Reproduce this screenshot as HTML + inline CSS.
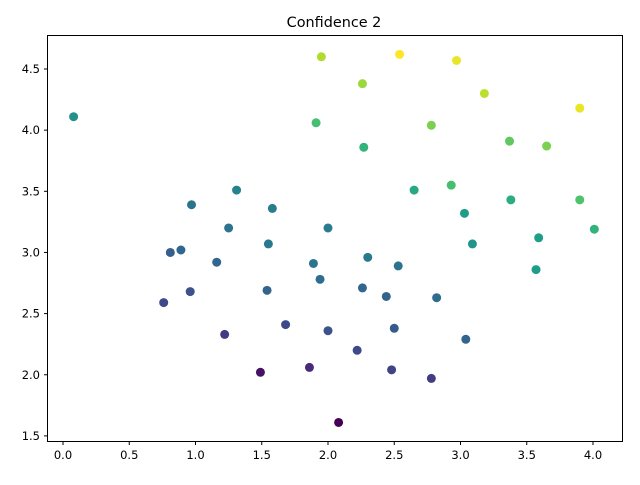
<!DOCTYPE html>
<html><head><meta charset="utf-8"><style>
body{margin:0;background:#fff;}
svg text{font-family:"DejaVu Sans","Liberation Sans",sans-serif;fill:#000;}
</style></head><body>
<svg id="chart" width="640" height="480">
<rect width="640" height="480" fill="#fff"/>
<text x="334" y="27" font-size="14.4" text-anchor="middle">Confidence 2</text>
<g id="marks"></g>
<g id="xaxis"></g><g id="yaxis"></g>
<rect x="47.5" y="35.5" width="575" height="406" fill="none" stroke="#000" stroke-width="1"/>
</svg>
<script>
const xs=[0.08,1.95,2.54,2.97,2.26,3.18,3.90,1.91,2.78,2.27,3.37,3.65,2.65,2.93,1.31,0.97,1.58,3.38,3.90,3.03,2.0,1.25,4.01,3.59,1.55,3.09,0.81,0.89,2.30,1.16,1.89,2.53,3.57,1.94,2.26,1.54,0.96,2.44,2.82,0.76,1.68,2.5,2.0,3.04,1.22,2.22,1.49,1.86,2.48,2.78,2.08];
const ys=[4.11,4.60,4.62,4.57,4.38,4.30,4.18,4.06,4.04,3.86,3.91,3.87,3.51,3.55,3.51,3.39,3.36,3.43,3.43,3.32,3.20,3.20,3.19,3.12,3.07,3.07,3.00,3.02,2.96,2.92,2.91,2.89,2.86,2.78,2.71,2.69,2.68,2.64,2.63,2.59,2.41,2.38,2.36,2.29,2.33,2.20,2.02,2.06,2.04,1.97,1.61];
const cs=[0.5,0.88,1.0,0.97,0.85,0.9,0.97,0.7,0.8,0.65,0.75,0.8,0.6,0.7,0.45,0.38,0.42,0.62,0.72,0.55,0.42,0.38,0.65,0.55,0.4,0.52,0.3,0.33,0.4,0.33,0.38,0.38,0.55,0.35,0.33,0.32,0.25,0.32,0.35,0.22,0.22,0.28,0.25,0.32,0.18,0.22,0.05,0.12,0.2,0.18,0.0];
const xTicks=[0,0.5,1,1.5,2,2.5,3,3.5,4];
const yTicks=[1.5,2,2.5,3,3.5,4,4.5];
const sx=v=>63+v*132.5, sy=v=>69+(4.5-v)*122.3;
const V=[[68,1,84],[72,40,120],[62,74,137],[49,104,142],[38,130,142],[31,158,137],[53,183,121],[109,205,89],[180,222,44],[253,231,37]];
function vir(t){t=Math.max(0,Math.min(1,t))*9;const i=Math.min(8,Math.floor(t)),f=t-i;const a=V[i],b=V[i+1];return`rgb(${a.map((c,k)=>Math.round(c+(b[k]-c)*f)).join(',')})`;}
const NS='http://www.w3.org/2000/svg';
const m=document.getElementById('marks');
xs.forEach((x,i)=>{const c=document.createElementNS(NS,'circle');
c.setAttribute('cx',sx(x));c.setAttribute('cy',sy(ys[i]));c.setAttribute('r',4.5);c.setAttribute('fill',vir(cs[i]));


m.appendChild(c);});
const xa=document.getElementById('xaxis');
xTicks.forEach(t=>{const x=sx(t);
const l=document.createElementNS(NS,'line');l.setAttribute('x1',x);l.setAttribute('x2',x);l.setAttribute('y1',441.5);l.setAttribute('y2',445);l.setAttribute('stroke','#000');


xa.appendChild(l);
const tx=document.createElementNS(NS,'text');tx.setAttribute('x',x);tx.setAttribute('y',459);tx.setAttribute('font-size','11.5');tx.setAttribute('text-anchor','middle');tx.textContent=t.toFixed(1);


xa.appendChild(tx);});
const ya=document.getElementById('yaxis');
yTicks.forEach(t=>{const y=sy(t);
const l=document.createElementNS(NS,'line');l.setAttribute('x1',44);l.setAttribute('x2',47.5);l.setAttribute('y1',y);l.setAttribute('y2',y);l.setAttribute('stroke','#000');


ya.appendChild(l);
const tx=document.createElementNS(NS,'text');tx.setAttribute('x',40);tx.setAttribute('y',y+4);tx.setAttribute('font-size','11.5');tx.setAttribute('text-anchor','end');tx.textContent=t.toFixed(1);


ya.appendChild(tx);});
</script>
</body></html>
